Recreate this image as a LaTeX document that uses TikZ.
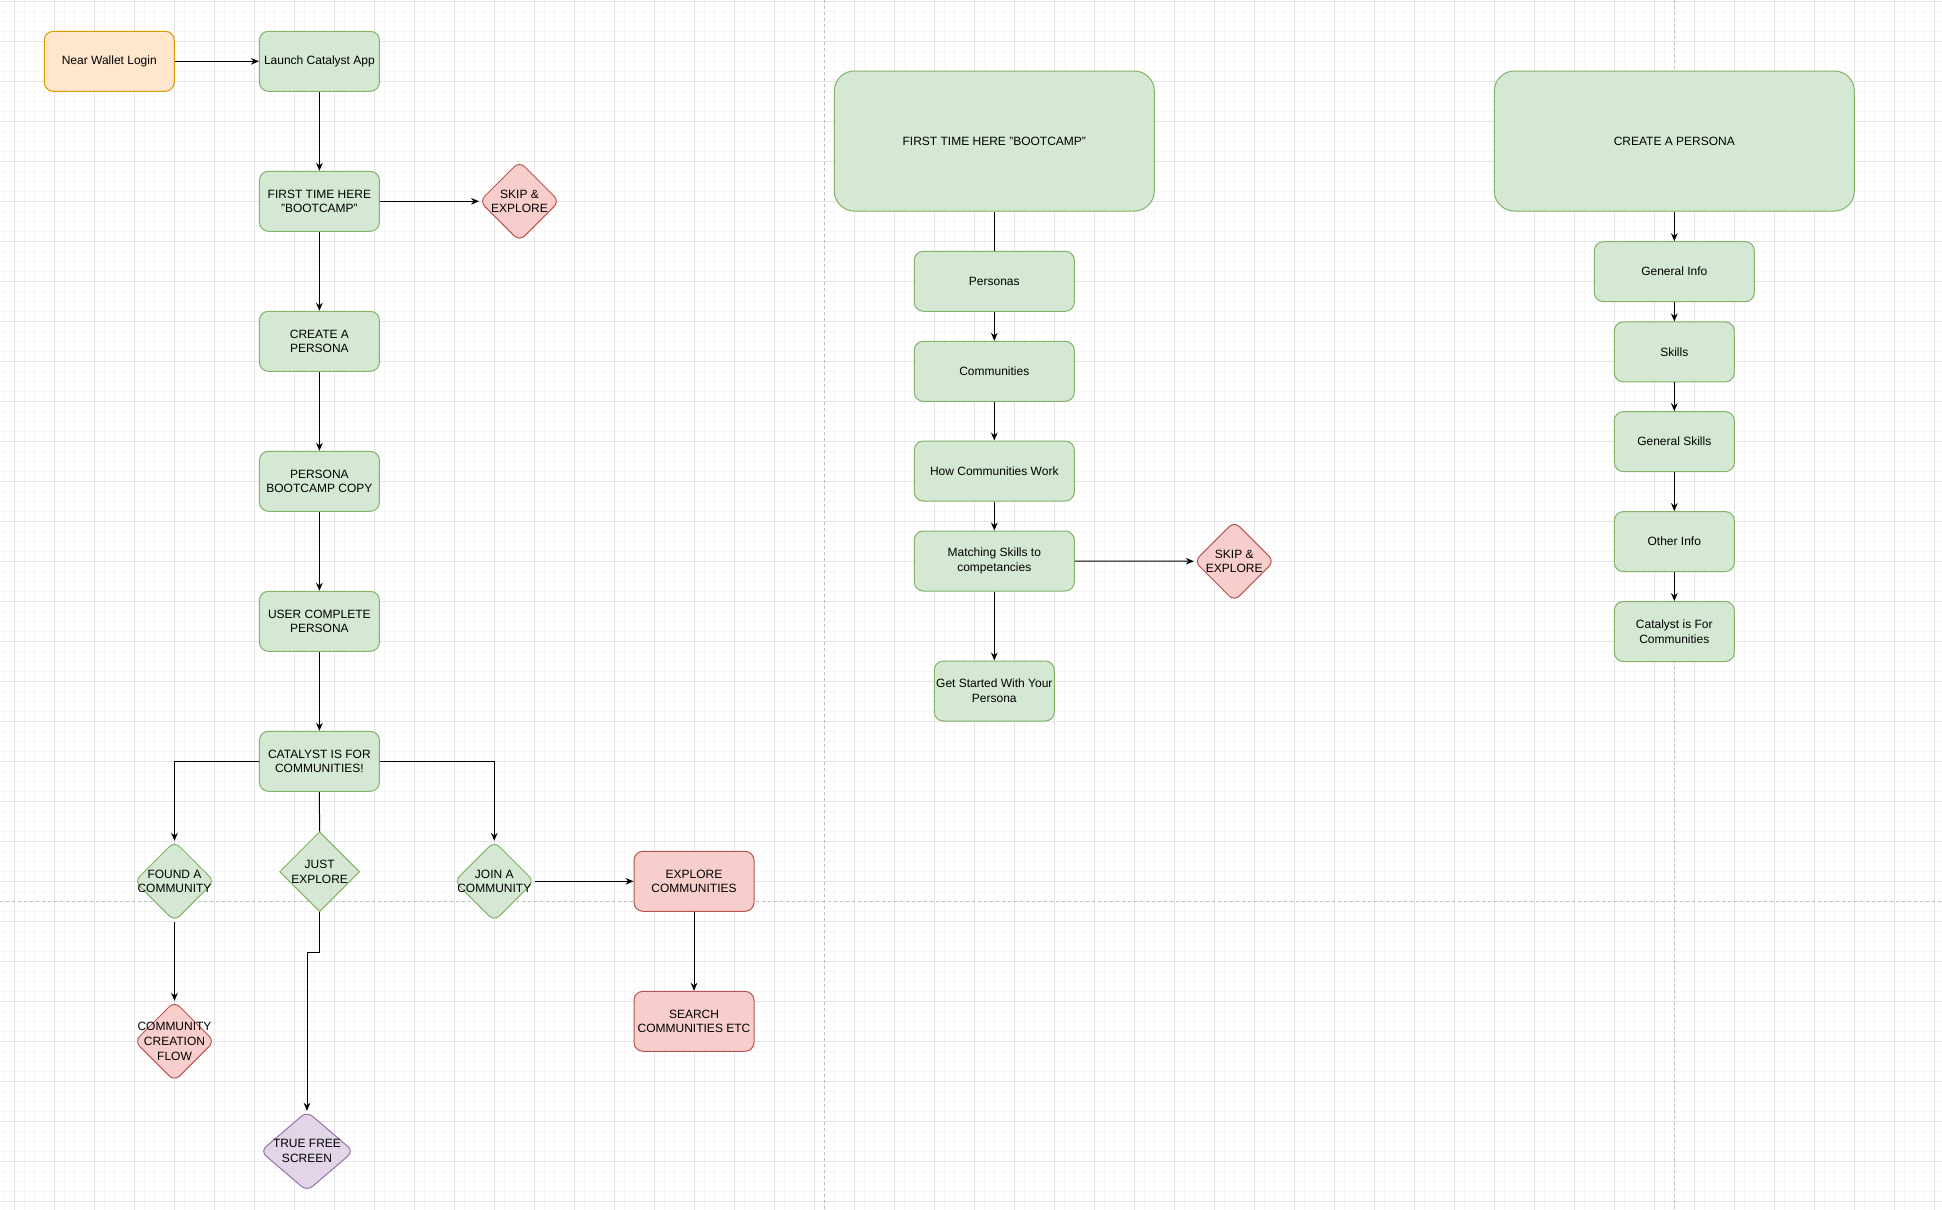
\documentclass[tikz,border=0pt]{standalone}
\usepackage{fontspec}
\setmainfont{Liberation Sans}
\usepackage{tikz}
\usetikzlibrary{arrows.meta,shapes.geometric}
\definecolor{grnF}{HTML}{D5E8D4}
\definecolor{grnD}{HTML}{82B366}
\definecolor{orgF}{HTML}{FFE6CC}
\definecolor{orgD}{HTML}{D79B00}
\definecolor{redF}{HTML}{F8CECC}
\definecolor{redD}{HTML}{B85450}
\definecolor{purF}{HTML}{E1D5E7}
\definecolor{purD}{HTML}{9673A6}
\definecolor{gridmin}{HTML}{F6F6F6}
\definecolor{gridmaj}{HTML}{E4E4E4}
\definecolor{brk}{HTML}{BDBDBD}

\begin{document}
\begin{tikzpicture}[
    x=0.75pt, y=-0.75pt,
    >={Stealth[length=6pt,width=5pt]},
    line width=0.75pt,
    txt/.style={font=\fontsize{9}{11.1}\selectfont, align=center},
    box/.style={txt, draw, rounded corners=6.75pt, minimum width=90pt, minimum height=45pt,
                inner sep=1pt},
    grn/.style={box, fill=grnF, draw=grnD},
    org/.style={box, fill=orgF, draw=orgD},
    redbox/.style={box, fill=redF, draw=redD},
    big/.style={grn, rounded corners=15pt, minimum height=105pt},
    dia/.style={diamond, draw, inner sep=0pt, minimum width=60pt, minimum height=60pt,
                rounded corners=5.4pt, label={[txt]center:#1}},
    gdia/.style={dia=#1, fill=grnF, draw=grnD},
    rdia/.style={dia=#1, fill=redF, draw=redD},
    pdia/.style={dia=#1, fill=purF, draw=purD},
    pgbrk/.style={draw=brk, dash pattern=on 2.25pt off 2.25pt},
  ]
    \useasboundingbox (0,0) rectangle (1942,1210);
    \fill[white] (0,0) rectangle (1942,1210);
    \foreach \x in {4.3,14.3,...,1942}
      \draw[gridmin] (\x,0) -- (\x,1210);
    \foreach \y in {1.7,11.7,...,1210}
      \draw[gridmin] (0,\y) -- (1942,\y);
    \foreach \x in {14.3,54.3,...,1942}
      \draw[gridmaj] (\x,0) -- (\x,1210);
    \foreach \y in {1.7,41.7,...,1210}
      \draw[gridmaj] (0,\y) -- (1942,\y);
    \draw[pgbrk] (824.3,0) -- (824.3,1210);
    \draw[pgbrk] (1674.3,0) -- (1674.3,1210);
    \draw[pgbrk] (0,901.7) -- (1942,901.7);

    % onboarding flow
    \node[org, minimum width=97.5pt] (near) at (109.3,61.3) {Near Wallet Login};
    \node[grn] (launch)   at (319.4,61.3)  {Launch Catalyst App};
    \node[grn] (first)    at (319.4,201.3) {FIRST TIME HERE\\"BOOTCAMP"};
    \node[rdia={SKIP \&\\EXPLORE}] (skipA) at (519.5,201.3) {};
    \node[grn] (create)   at (319.4,341.3) {CREATE A\\PERSONA};
    \node[grn] (copy)     at (319.4,481.3) {PERSONA\\BOOTCAMP COPY};
    \node[grn] (usercp)   at (319.4,621.3) {USER COMPLETE\\PERSONA};
    \node[grn] (catalyst) at (319.4,761.3) {CATALYST IS FOR\\COMMUNITIES!};
    \node[gdia={FOUND A\\COMMUNITY}] (found) at (174.5,881.3) {};
    \node[gdia={JUST\\EXPLORE}, rounded corners=0pt] (justx) at (319.6,871.7) {};
    \node[gdia={JOIN A\\COMMUNITY}] (join) at (494.3,881.3) {};
    \node[redbox] (explore) at (694,881.3)  {EXPLORE\\COMMUNITIES};
    \node[redbox] (search)  at (694,1021.3) {SEARCH\\COMMUNITIES ETC};
    \node[rdia={COMMUNITY\\CREATION\\FLOW}] (creation) at (174.5,1041.3) {};
    \node[pdia={TRUE FREE\\SCREEN}, minimum width=70pt] (truefree) at (307,1151.3) {};

    \draw[->] (near) -- (launch);
    \draw[->] (launch) -- (first);
    \draw[->] (first) -- (skipA);
    \draw[->] (first) -- (create);
    \draw[->] (create) -- (copy);
    \draw[->] (copy) -- (usercp);
    \draw[->] (usercp) -- (catalyst);
    \draw[->] (catalyst.west) -| (found.north);
    \draw[->] (catalyst.east) -| (join.north);
    \draw (catalyst) -- (justx);
    \draw[->] (justx.south) -- ++(0,40) -| (truefree.north);
    \draw[->] (found) -- (creation);
    \draw[->] (join) -- (explore);
    \draw[->] (explore) -- (search);

    % bootcamp
    \node[big, minimum width=240pt] (bootcamp) at (994.3,141) {FIRST TIME HERE "BOOTCAMP"};
    \node[grn, minimum width=120pt] (personas) at (994.3,281.3) {Personas};
    \node[grn, minimum width=120pt] (communities) at (994.3,371.3) {Communities};
    \node[grn, minimum width=120pt] (howwork) at (994.3,471) {How Communities Work};
    \node[grn, minimum width=120pt] (matching) at (994.3,561) {Matching Skills to\\competancies};
    \node[grn] (started) at (994.3,691) {Get Started With Your\\Persona};
    \node[rdia={SKIP \&\\EXPLORE}] (skipB) at (1234.3,561.3) {};

    \draw (bootcamp) -- (personas);
    \draw[->] (personas) -- (communities);
    \draw[->] (communities) -- (howwork);
    \draw[->] (howwork) -- (matching);
    \draw[->] (matching) -- (started);
    \draw[->] (matching) -- (skipB);

    % persona creation
    \node[big, minimum width=270pt] (persona) at (1674.3,141) {CREATE A PERSONA};
    \node[grn, minimum width=120pt] (geninfo) at (1674.3,271.7) {General Info};
    \node[grn] (skills)    at (1674.3,351.9) {Skills};
    \node[grn] (genskills) at (1674.3,441.6) {General Skills};
    \node[grn] (otherinfo) at (1674.3,541.6) {Other Info};
    \node[grn] (catcomm)   at (1674.3,631.5) {Catalyst is For\\Communities};

    \draw[->] (persona) -- (geninfo);
    \draw[->] (geninfo) -- (skills);
    \draw[->] (skills) -- (genskills);
    \draw[->] (genskills) -- (otherinfo);
    \draw[->] (otherinfo) -- (catcomm);
  \end{tikzpicture}
\end{document}
